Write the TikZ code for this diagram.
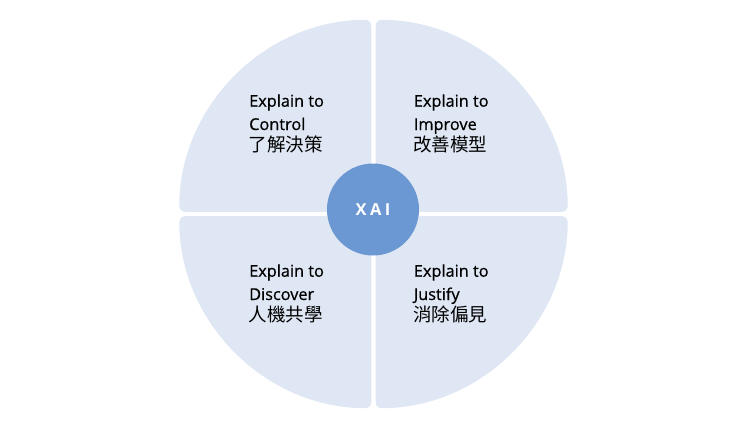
\documentclass[tikz,border=0pt]{standalone}
\usepackage{fontspec}
\setmainfont{Open Sans}[FakeBold=0.6]
\newfontfamily\cjk{Noto Sans CJK TC}
\newfontfamily\xaifont{Open Sans Bold}
\definecolor{quadfill}{HTML}{DEE7F3}
\definecolor{hubfill}{HTML}{6B97D3}
\begin{document}
\begin{tikzpicture}[x=1pt,y=1pt,
  quad/.style={fill=quadfill, rounded corners=6pt},
  lbl/.style={anchor=base west, inner sep=0pt, font=\fontsize{16.3}{16}\selectfont, text=black},
  cjklbl/.style={anchor=base west, inner sep=0pt, font=\cjk\fontsize{18.5}{18.5}\selectfont, text=black}]
\useasboundingbox (-373.5,-207) rectangle (363.5,214);
\def\g{2.2}
\def\r{192}
% quadrants
\fill[quad] (-\g,\g) -- (-\g-\r,\g) arc[start angle=180,end angle=90,radius=\r] -- cycle;
\fill[quad] (\g,\g) -- (\g,\g+\r) arc[start angle=90,end angle=0,radius=\r] -- cycle;
\fill[quad] (-\g,-\g) -- (-\g,-\g-\r) arc[start angle=270,end angle=180,radius=\r] -- cycle;
\fill[quad] (\g,-\g) -- (\g+\r,-\g) arc[start angle=0,end angle=-90,radius=\r] -- cycle;
% hub
\node[circle, fill=hubfill, minimum size=92pt, inner sep=0pt, text=white,
      font=\xaifont\fontsize{16.5}{16.5}\selectfont] (hub) at (-0.5,4.5)
      {X\hspace{3.5pt}A\hspace{3.5pt}I};
% top-left
\node[lbl] (tl1) at (-124.5,107.3) {Explain to};
\node[lbl] (tl2) at (-124.5,84) {Control};
\node[cjklbl] (tl3) at (-125,63) {了解決策};
% top-right
\node[lbl] (tr1) at (40.2,107.3) {Explain to};
\node[lbl] (tr2) at (40.2,84) {Improve};
\node[cjklbl] (tr3) at (39.7,63) {改善模型};
% bottom-left
\node[lbl] (bl1) at (-124.5,-62.7) {Explain to};
\node[lbl] (bl2) at (-124.5,-86) {Discover};
\node[cjklbl] (bl3) at (-125,-107) {人機共學};
% bottom-right
\node[lbl] (br1) at (40.2,-62.7) {Explain to};
\node[lbl] (br2) at (40.2,-86) {Justify};
\node[cjklbl] (br3) at (39.7,-107) {消除偏見};
\end{tikzpicture}
\end{document}
